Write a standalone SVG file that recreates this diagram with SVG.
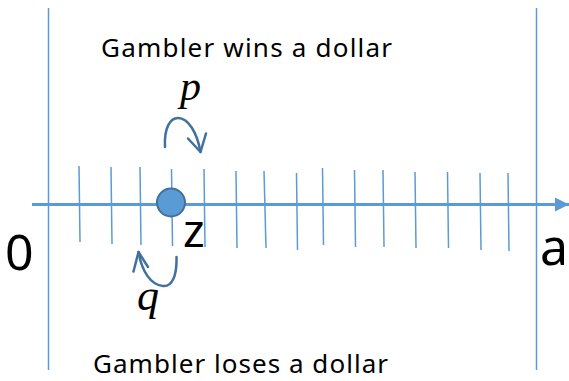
<svg xmlns="http://www.w3.org/2000/svg" width="569" height="381" viewBox="0 0 569 381">
<style>
.bound{stroke:#5B9BD5;stroke-width:1.5;fill:none}
.tick{stroke:#5B9BD5;stroke-width:1.5;fill:none}
.axis{stroke:#5B9BD5;stroke-width:3;fill:none}
.curve{stroke:#41719C;stroke-width:2.5;fill:none;stroke-linecap:round;stroke-linejoin:round}
.lbl{font-family:"Noto Sans","Open Sans",sans-serif;fill:#000}
.var{font-family:"Liberation Serif","Times New Roman",serif;font-style:italic;fill:#000}
</style>
<defs>
<marker id="axisHead" viewBox="0 0 10 10" refX="10" refY="5" markerWidth="14" markerHeight="15" markerUnits="userSpaceOnUse" orient="auto">
<path d="M0,0 L10,5 L0,10 z" fill="#5B9BD5"/>
</marker>
</defs>
<g id="boundaries">
<line class="bound" x1="48.5" y1="8" x2="48.5" y2="370"/>
<line class="bound" x1="536.5" y1="8" x2="536.5" y2="370"/>
</g>
<g id="ticks">
<line class="tick" x1="79" y1="166" x2="80" y2="242"/>
<line class="tick" x1="111" y1="167" x2="112" y2="244"/>
<line class="tick" x1="140" y1="167" x2="141" y2="245"/>
<line class="tick" x1="171.5" y1="169" x2="172.5" y2="246"/>
<line class="tick" x1="204" y1="169" x2="205" y2="247"/>
<line class="tick" x1="236" y1="171" x2="237" y2="248"/>
<line class="tick" x1="264" y1="171" x2="266" y2="248"/>
<line class="tick" x1="296.5" y1="173" x2="297.5" y2="250"/>
<line class="tick" x1="322.5" y1="168" x2="323.5" y2="245"/>
<line class="tick" x1="354.5" y1="170" x2="355.5" y2="247"/>
<line class="tick" x1="383" y1="170" x2="384" y2="247"/>
<line class="tick" x1="415" y1="172" x2="416" y2="248"/>
<line class="tick" x1="447.5" y1="172" x2="448.5" y2="248"/>
<line class="tick" x1="480" y1="173" x2="481" y2="250"/>
<line class="tick" x1="508" y1="173" x2="509" y2="251"/>
</g>
<g id="connectors">
<line class="axis" x1="32" y1="204.5" x2="569" y2="204.5" marker-end="url(#axisHead)"/>
<path class="curve" d="M165,147 C164,128 170,118 178,118 C188,118 197,132 200.5,152"/>
<path class="curve" d="M188,138.5 L200.5,152 L206,133.5"/>
<path class="curve" d="M176.5,257 C177,276 172,287 163,286 C151,285 142,272 138.5,252"/>
<path class="curve" d="M133.5,271.5 L138.5,252 L148,267"/>
</g>
<g id="node-z">
<circle cx="171" cy="202.5" r="14" fill="#5B9BD5" stroke="#41719C" stroke-width="2"/>
<text class="lbl" x="183" y="246.5" font-size="46">z</text>
</g>
<g id="label-0">
<text class="lbl" x="5" y="270" font-size="50">0</text>
</g>
<g id="label-a">
<text class="lbl" x="540" y="265" font-size="50">a</text>
</g>
<g id="label-p">
<text class="var" x="180" y="100" font-size="42">p</text>
</g>
<g id="label-q">
<text class="var" x="137" y="310" font-size="44">q</text>
</g>
<g id="label-wins">
<text class="lbl" x="101" y="57" font-size="26" textLength="291" lengthAdjust="spacing">Gambler wins a dollar</text>
</g>
<g id="label-loses">
<text class="lbl" x="93" y="373" font-size="26" textLength="295" lengthAdjust="spacing">Gambler loses a dollar</text>
</g>
</svg>
